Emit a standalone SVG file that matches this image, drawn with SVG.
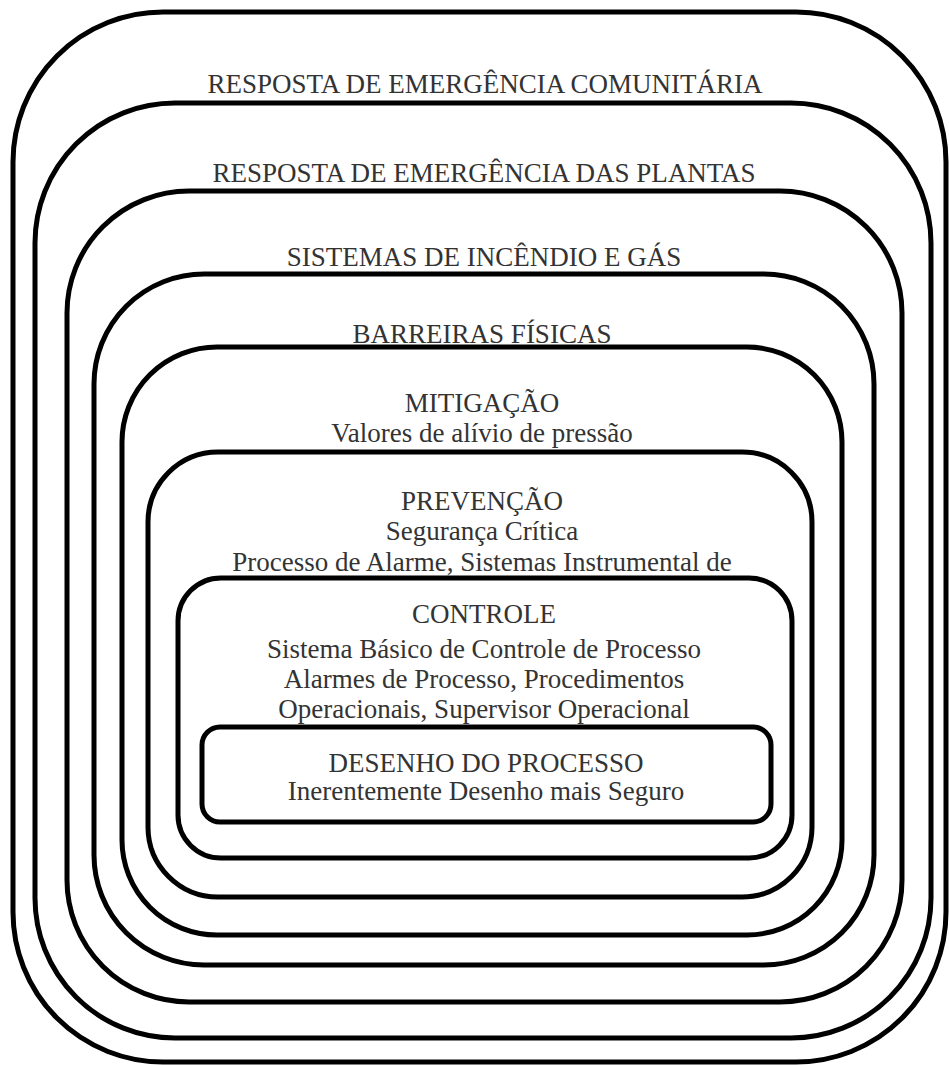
<svg xmlns="http://www.w3.org/2000/svg" width="949" height="1065" viewBox="0 0 949 1065">
<style>
.b{fill:none;stroke:#000;stroke-width:5}
.t{font-family:"Liberation Serif","Times New Roman",serif;font-size:27px;fill:#333;text-anchor:middle}
</style>
<rect width="949" height="1065" fill="#fff"/>
<g id="comunitaria">
<rect class="b" x="13" y="12" width="933" height="1050" rx="150" ry="150"/>
<text class="t" x="485" y="93">RESPOSTA DE EMERGÊNCIA COMUNITÁRIA</text>
</g>
<g id="plantas">
<rect class="b" x="35" y="103" width="896" height="935" rx="140" ry="140"/>
<text class="t" x="484" y="182">RESPOSTA DE EMERGÊNCIA DAS PLANTAS</text>
</g>
<g id="incendio">
<rect class="b" x="67" y="191" width="835" height="811" rx="122" ry="122"/>
<text class="t" x="484" y="266">SISTEMAS DE INCÊNDIO E GÁS</text>
</g>
<g id="barreiras">
<rect class="b" x="94" y="274" width="780" height="691" rx="110" ry="110"/>
<text class="t" x="482" y="343">BARREIRAS FÍSICAS</text>
</g>
<g id="mitigacao">
<rect class="b" x="122" y="347" width="720" height="588" rx="95" ry="95"/>
<text class="t" x="482" y="412">MITIGAÇÃO</text>
<text class="t" x="482" y="442">Valores de alívio de pressão</text>
</g>
<g id="prevencao">
<rect class="b" x="148" y="452" width="664" height="445" rx="70" ry="70"/>
<text class="t" x="482" y="510">PREVENÇÃO</text>
<text class="t" x="482" y="540">Segurança Crítica</text>
<text class="t" x="482" y="571">Processo de Alarme, Sistemas Instrumental de</text>
</g>
<g id="controle">
<rect class="b" x="178" y="578" width="614" height="280" rx="43" ry="43"/>
<text class="t" x="484" y="623">CONTROLE</text>
<text class="t" x="484" y="658">Sistema Básico de Controle de Processo</text>
<text class="t" x="484" y="688">Alarmes de Processo, Procedimentos</text>
<text class="t" x="484" y="718">Operacionais, Supervisor Operacional</text>
</g>
<g id="desenho">
<rect class="b" x="202" y="727" width="569" height="95" rx="18" ry="18"/>
<text class="t" x="486" y="772">DESENHO DO PROCESSO</text>
<text class="t" x="486" y="800">Inerentemente Desenho mais Seguro</text>
</g>
<g id="connectors"/>
</svg>
